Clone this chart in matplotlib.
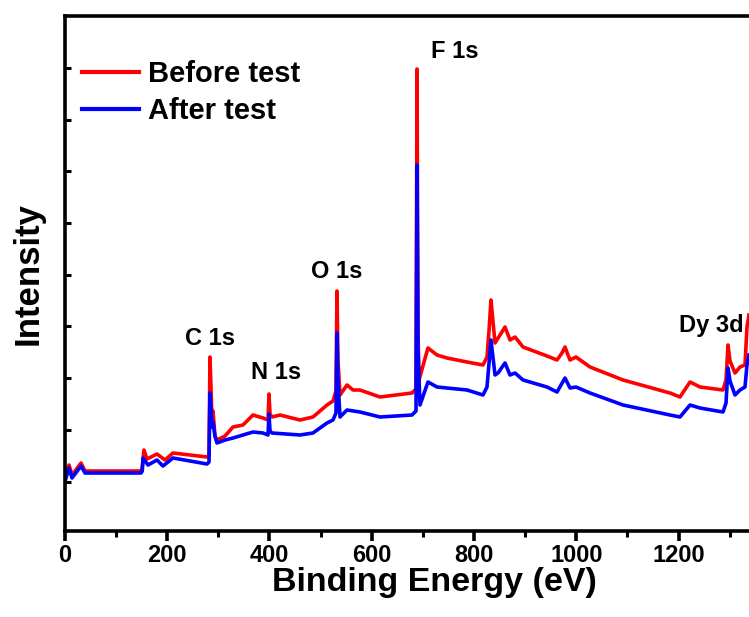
import matplotlib
matplotlib.use("Agg")
import matplotlib.pyplot as plt
from matplotlib.ticker import FixedLocator

plt.rcParams['font.family'] = ['Liberation Sans', 'DejaVu Sans']
plt.rcParams['font.weight'] = 'bold'

# XPS survey spectra (binding energy in eV, intensity in arbitrary units)
before_be = [0, 8.2, 14.1, 31.7, 39.5, 149, 151.5, 154.8, 160.7, 180.2, 195.9, 211.5,
             278, 281.9, 283.8, 287.7, 289.7, 293.6, 297.5, 313.2, 328.8, 348.4, 367.9,
             387.5, 397.3, 399.2, 401.2, 405.1, 420.7, 459.8, 485.2, 512.6, 524.3, 530.2,
             532.1, 534.1, 538, 551.7, 563.4, 577.1, 616.2, 678.8, 686.6, 688.6, 690.5,
             692.5, 710, 727.7, 747.2, 786.3, 817.6, 825.4, 829.3, 833.2, 835.2, 841.1,
             860.6, 870.4, 880.2, 895.8, 942.7, 962.3, 972, 977.9, 983.8, 987.7, 999.4,
             1026.8, 1091.3, 1183.2, 1202.7, 1222.3, 1241.8, 1286.8, 1292.7, 1296.6,
             1300.5, 1310.3, 1320.1, 1329.8, 1333.7, 1337.6]
before_int = [53, 66, 56, 68, 60, 60, 64, 81, 72, 77, 71, 78,
              74, 76, 174, 114, 120, 95, 91, 95, 104, 106, 116,
              113, 111, 137, 117, 114, 116, 111, 114, 126, 130, 140,
              240, 170, 136, 146, 141, 141, 134, 138, 142, 462, 200,
              151, 183, 176, 173, 169, 166, 174, 200, 231, 220, 188,
              204, 191, 194, 184, 175, 171, 178, 184, 176, 171, 174,
              164, 151, 138, 134, 149, 144, 141, 151, 186,
              170, 158, 164, 166, 204, 216]

after_be = [0, 8.2, 14.1, 31.7, 39.5, 149, 151.5, 152.9, 162.7, 180.2, 191.9, 211.5,
            278, 281.9, 283.8, 287.7, 289.7, 293.6, 297.5, 313.2, 328.8, 367.9, 387.5,
            397.3, 399.2, 401.2, 405.1, 459.8, 485.2, 512.6, 524.3, 530.2, 532.1, 534.1,
            538, 551.7, 577.1, 616.2, 678.8, 686.6, 688.6, 690.5, 694.4, 710, 727.7,
            786.3, 817.6, 825.4, 833.2, 841.1, 846.9, 860.6, 870.4, 880.2, 895.8, 942.7,
            962.3, 977.9, 987.7, 999.4, 1026.8, 1091.3, 1183.2, 1202.7, 1222.3, 1241.8,
            1286.8, 1292.7, 1296.6, 1300.5, 1310.3, 1320.1, 1329.8, 1333.7, 1337.6]
after_int = [49, 63, 53, 65, 58, 58, 60, 73, 66, 71, 65, 73,
             67, 69, 138, 104, 109, 95, 88, 91, 93, 99, 98,
             96, 117, 100, 98, 96, 98, 108, 111, 118, 198, 150,
             114, 121, 119, 114, 116, 120, 366, 180, 126, 149, 144,
             141, 136, 144, 191, 156, 158, 168, 156, 158, 151, 144,
             139, 153, 143, 144, 138, 126, 116, 114, 126, 123,
             119, 128, 163, 150, 136, 141, 144, 166, 176]

peak_labels = ["C 1s", "N 1s", "O 1s", "F 1s", "Dy 3d"]
label_be = [283.8, 413, 532, 763, 1263]
label_int = [186, 152, 253, 473, 199]

x_major = [0, 200, 400, 600, 800, 1000, 1200]
x_minor = [100, 300, 500, 700, 900, 1100, 1300]

W, H = 749, 617
fig = plt.figure(figsize=(W / 100, H / 100), dpi=100)
x0_px, bottom_px, top_px = 64.8, 531, 16
px_per_ev = 0.5115
xmax = 1400
ax = fig.add_axes([x0_px / W, (H - bottom_px) / H,
                   xmax * px_per_ev / W, (bottom_px - top_px) / H])

ax.plot(before_be, before_int, color='#ff0000', lw=2.6, label='Before test',
        solid_joinstyle='round')
ax.plot(after_be, after_int, color='#0000ff', lw=2.6, label='After test',
        solid_joinstyle='round')

for txt, xv, yv in zip(peak_labels, label_be, label_int):
    ax.text(xv, yv, txt, ha='center', va='baseline', fontsize=17, fontweight='bold')

ax.set_xlim(0, xmax)
ax.set_ylim(0, bottom_px - top_px)
ax.xaxis.set_major_locator(FixedLocator(x_major))
ax.xaxis.set_minor_locator(FixedLocator(x_minor))
ax.set_yticks([49.5 + 51.7 * k for k in range(9)])
ax.set_yticklabels([])

for s in ax.spines.values():
    s.set_linewidth(2.6)
ax.tick_params(axis='x', which='major', direction='out', length=7, width=2.6,
               labelsize=17, pad=2)
ax.tick_params(axis='x', which='minor', direction='out', length=4, width=2.2)
ax.tick_params(axis='y', which='major', direction='in', length=4, width=2.2)
for lab in ax.get_xticklabels():
    lab.set_fontweight('bold')

ax.set_xlabel('Binding Energy (eV)', fontsize=24.5, fontweight='bold')
ax.xaxis.set_label_coords(0.516, -0.07)
ax.set_ylabel('Intensity', fontsize=25, fontweight='bold', labelpad=11)

leg = ax.legend(loc='upper left', bbox_to_anchor=(0.0, 0.949), frameon=False,
                fontsize=21, handlelength=1.95, handletextpad=0.3,
                labelspacing=0.33, borderaxespad=0.2)
for line in leg.get_lines():
    line.set_linewidth(3)

fig.savefig('out.png', dpi=100)
